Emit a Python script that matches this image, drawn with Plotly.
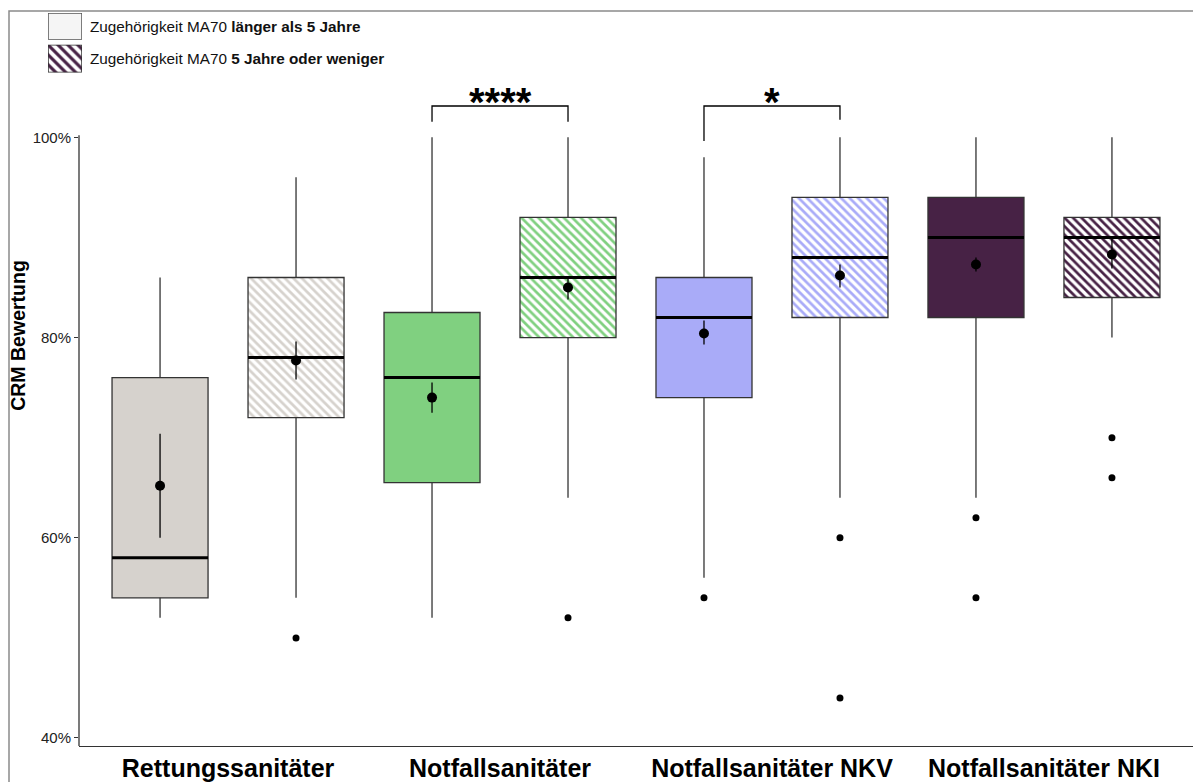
import plotly.graph_objects as go

# ---------------- data ----------------
categories = ["Rettungssanitäter", "Notfallsanitäter", "Notfallsanitäter NKV", "Notfallsanitäter NKI"]
group_labels = ["Zugehörigkeit MA70 <b>länger als 5 Jahre</b>",
                "Zugehörigkeit MA70 <b>5 Jahre oder weniger</b>"]

# box order: (cat0, long), (cat0, short), (cat1, long), (cat1, short), ...
q1 = [54, 72, 65.5, 80, 74, 82, 82, 84]
median = [58, 78, 76, 86, 82, 88, 90, 90]
q3 = [76, 86, 82.5, 92, 86, 94, 94, 92]
whisker_low = [52, 54, 52, 64, 56, 64, 64, 80]
whisker_high = [86, 96, 100, 100, 98, 100, 100, 100]
means = [65.2, 77.7, 74.0, 85.0, 80.4, 86.2, 87.3, 88.3]
ci_low = [60.0, 75.8, 72.5, 83.8, 79.3, 85.0, 86.6, 86.9]
ci_high = [70.4, 79.6, 75.5, 86.0, 81.7, 87.3, 88.0, 89.9]
outliers = [[], [50], [], [52], [54], [60, 44], [62, 54], [70, 66]]

# significance brackets (category index, label, bracket top, left tip end, right tip end)
sig_categories = [1, 2]
sig_labels = ["****", "*"]
sig_top = [103.13, 103.13]
sig_tip_left = [101.55, 99.63]
sig_tip_right = [101.55, 101.75]

y_ticks = [40, 60, 80, 100]

# ---------------- styles ----------------
cat_colors = ["#D6D2CD", "#80D080", "#A9ABF8", "#472245"]
FONT = "Liberation Sans, Arial, Helvetica, sans-serif"
box_w = 0.706
edge = "#333333"

W, H = 1193, 782
ML, MR, MT, MB = 9, 0, 11, 31
pw, ph = W - ML - MR, H - MT - MB
ax_left_px = 79
y_min, y_max = 39.2, 104.8
plot_top_px = 89.8

x_dom0 = (ax_left_px - ML) / pw
y_dom1 = (H - MB - plot_top_px) / ph

positions = [2 * ci + gi for ci in range(len(categories)) for gi in range(2)]
n = len(positions)

fig = go.Figure()

# boxes (IQR) as bars: solid for long, hatched for short
for gi in range(2):
    idx = [i for i in range(n) if i % 2 == gi]
    cols = [cat_colors[i // 2] for i in idx]
    marker = dict(color=cols if gi == 0 else "white", line=dict(color=edge, width=1.3))
    if gi == 1:
        marker["pattern"] = dict(shape="\\", fgcolor=cols, bgcolor="white",
                                 fillmode="replace", size=6, solidity=0.45)
    fig.add_trace(go.Bar(
        x=[positions[i] for i in idx],
        y=[q3[i] - q1[i] for i in idx],
        base=[q1[i] for i in idx],
        width=box_w, marker=marker, hoverinfo="skip"))

# whiskers
wx, wy = [], []
for i in range(n):
    p = positions[i]
    wx += [p, p, None, p, p, None]
    wy += [q3[i], whisker_high[i], None, q1[i], whisker_low[i], None]
fig.add_trace(go.Scatter(x=wx, y=wy, mode="lines", line=dict(color=edge, width=1.3),
                         hoverinfo="skip"))

# medians
mx, my = [], []
for i in range(n):
    p = positions[i]
    mx += [p - box_w / 2, p + box_w / 2, None]
    my += [median[i], median[i], None]
fig.add_trace(go.Scatter(x=mx, y=my, mode="lines", line=dict(color="black", width=3),
                         hoverinfo="skip"))

# outliers
ox, oy = [], []
for i in range(n):
    for v in outliers[i]:
        ox.append(positions[i])
        oy.append(v)
fig.add_trace(go.Scatter(x=ox, y=oy, mode="markers",
                         marker=dict(color="black", size=7), hoverinfo="skip"))

# means with confidence intervals
fig.add_trace(go.Scatter(
    x=positions, y=means, mode="markers",
    marker=dict(color="black", size=10),
    error_y=dict(type="data", symmetric=False,
                 array=[ci_high[i] - means[i] for i in range(n)],
                 arrayminus=[means[i] - ci_low[i] for i in range(n)],
                 color="black", thickness=1.3, width=0),
    hoverinfo="skip"))

# significance brackets
annotations = []
for k, ci in enumerate(sig_categories):
    pl, pr = positions[2 * ci], positions[2 * ci + 1]
    fig.add_trace(go.Scatter(x=[pl, pl, pr, pr],
                             y=[sig_tip_left[k], sig_top[k], sig_top[k], sig_tip_right[k]],
                             mode="lines", line=dict(color="black", width=1.3),
                             hoverinfo="skip"))
    annotations.append(dict(x=(pl + pr) / 2, y=sig_top[k] - 2.0, xref="x", yref="y",
                            text="<b>" + sig_labels[k] + "</b>", showarrow=False,
                            yanchor="bottom",
                            font=dict(family=FONT, size=40, color="black")))

# legend swatches on small auxiliary axes
sw_x0, sw_x1 = 48, 82
sw_rows = [(13, 40), (45, 73)]
for gi, (top, bot) in enumerate(sw_rows):
    xa = "x%d" % (gi + 2)
    ya = "y%d" % (gi + 2)
    if gi == 0:
        mk = dict(color="#F5F5F5", line=dict(color="#555555", width=1.5))
    else:
        mk = dict(color="white", line=dict(color=edge, width=1.5),
                  pattern=dict(shape="\\", fgcolor=cat_colors[3], bgcolor="white",
                               fillmode="replace", size=7, solidity=0.45))
    fig.add_trace(go.Bar(x=[0], y=[1], width=1, marker=mk, xaxis=xa, yaxis=ya,
                         cliponaxis=False, hoverinfo="skip"))
    dom_x = [(sw_x0 - ML) / pw, (sw_x1 - ML) / pw]
    dom_y = [(H - MB - bot) / ph, (H - MB - top) / ph]
    fig.update_layout(**{
        "xaxis%d" % (gi + 2): dict(domain=dom_x, range=[-0.5, 0.5], visible=False,
                                   anchor=ya, fixedrange=True),
        "yaxis%d" % (gi + 2): dict(domain=dom_y, range=[0, 1], visible=False,
                                   anchor=xa, fixedrange=True),
    })
    annotations.append(dict(x=(88 - ML) / pw, y=(H - MB - (top + bot) / 2) / ph,
                            xref="paper", yref="paper", xanchor="left", yanchor="middle",
                            text=group_labels[gi], showarrow=False,
                            font=dict(family=FONT, size=15.3, color="#111111")))

# y axis title
annotations.append(dict(x=(18 - ML) / pw, y=(H - MB - 338) / ph, xref="paper", yref="paper",
                        text="<b>CRM Bewertung</b>", textangle=-90, showarrow=False,
                        xanchor="center", yanchor="middle",
                        font=dict(family=FONT, size=19.5, color="black")))

fig.update_layout(
    width=W, height=H,
    margin=dict(l=ML, r=MR, t=MT, b=MB, pad=0),
    paper_bgcolor="white", plot_bgcolor="white",
    showlegend=False,
    barmode="overlay",
    font=dict(family=FONT),
    xaxis=dict(domain=[x_dom0, 1], range=[-0.596, 7.596],
               tickvals=[2 * ci + 0.5 for ci in range(len(categories))],
               ticktext=categories, ticks="", showgrid=False, zeroline=False,
               showline=True, linecolor=edge, linewidth=1.3,
               tickfont=dict(family=FONT, size=25, color="black", weight="bold"),
               fixedrange=True),
    yaxis=dict(domain=[0, y_dom1], range=[y_min, y_max],
               tickvals=y_ticks, ticktext=["%d%%" % v for v in y_ticks],
               ticks="outside", ticklen=4, tickwidth=1.2, tickcolor=edge,
               showgrid=False, zeroline=False, showline=False,
               tickfont=dict(family=FONT, size=15, color="#222222"),
               fixedrange=True),
    annotations=annotations,
    shapes=[
        # y axis line (ends at the top of the data range)
        dict(type="line", xref="x domain", yref="y domain", x0=0, x1=0,
             y0=0, y1=(100.2 - y_min) / (y_max - y_min),
             line=dict(color=edge, width=1.3)),
        # outer frame: only its left and top edges fall inside the page
        dict(type="rect", xref="paper", yref="paper", x0=0, x1=1.5, y0=-0.5, y1=1,
             line=dict(color="#8A8A8A", width=1.5), fillcolor="rgba(0,0,0,0)"),
    ],
)

fig.write_html("out.html",
               config={"displayModeBar": False},
               post_script="document.documentElement.style.margin='0';"
                           "document.documentElement.style.overflow='hidden';"
                           "document.body.style.margin='0';"
                           "document.body.style.overflow='hidden';")
